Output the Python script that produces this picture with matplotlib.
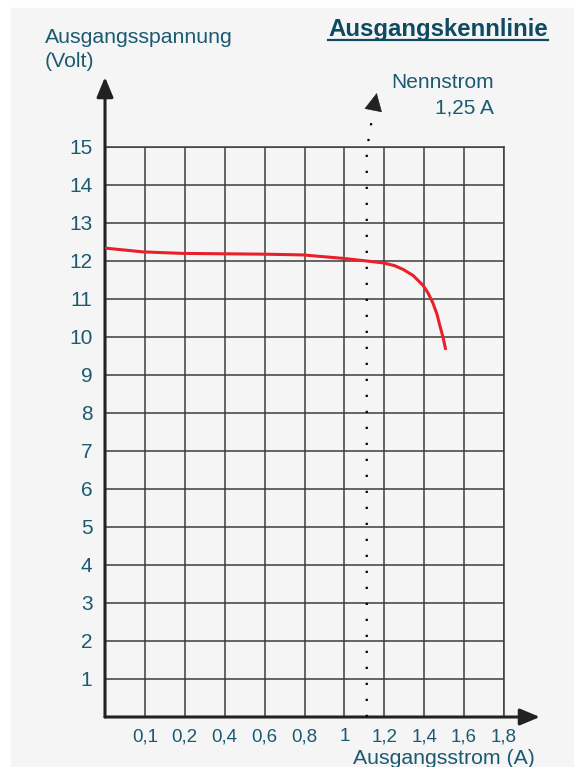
import matplotlib
matplotlib.use("Agg")
import matplotlib.pyplot as plt
from matplotlib.lines import Line2D
from matplotlib.patches import Rectangle

plt.rcParams["font.family"] = ["Liberation Sans", "DejaVu Sans"]

# grid positions along the current axis (one cell per tick) and their labels
x_ticks = [1, 2, 3, 4, 5, 6, 7, 8, 9, 10]
x_labels = ["0,1", "0,2", "0,4", "0,6", "0,8", "1", "1,2", "1,4", "1,6", "1,8"]
y_ticks = list(range(1, 16))
y_labels = [str(v) for v in y_ticks]

# output characteristic (x in grid units, volts)
curve_x = [0.0, 0.95, 1.95, 2.95, 3.96, 4.96, 5.96, 6.56, 6.97, 7.25, 7.47,
           7.72, 7.97, 8.10, 8.22, 8.32, 8.40, 8.47, 8.54]
curve_v = [12.34, 12.24, 12.20, 12.19, 12.18, 12.16, 12.07, 12.00, 11.95, 11.88, 11.78,
           11.62, 11.36, 11.15, 10.89, 10.60, 10.27, 10.00, 9.66]

nennstrom_pos = 6.56  # 1,25 A marker

TEXT = "#1b5a71"
TITLE = "#0e4a61"
GRID = "#3c3c3c"
BG = "#f5f5f5"

W, H = 574, 767
fig = plt.figure(figsize=(W / 100, H / 100), dpi=100, facecolor="white")
fig.patches.append(Rectangle((11 / W, 0), 1, 1 - 8 / H, transform=fig.transFigure,
                             color=BG, zorder=-10))

ax = fig.add_axes([105 / W, 50 / H, 399 / W, 570 / H])
ax.set_facecolor(BG)
ax.set_xlim(0, 10)
ax.set_ylim(0, 15)

ax.set_xticks(x_ticks)
ax.set_xticklabels(x_labels)
ax.set_yticks(y_ticks)
ax.set_yticklabels(y_labels)
ax.tick_params(axis="x", length=0, pad=8, labelsize=13.5, labelcolor=TEXT)
ax.tick_params(axis="y", length=0, pad=9, labelsize=15, labelcolor=TEXT)
ax.grid(True, color=GRID, lw=1.1)
ax.set_axisbelow(True)

for side in ["left", "bottom"]:
    ax.spines[side].set_visible(False)
for side in ["top", "right"]:
    ax.spines[side].set_color(GRID)
    ax.spines[side].set_linewidth(1.1)

# axis arrows
arrow = dict(arrowstyle="-|>,head_length=0.6,head_width=0.25", color="#222222",
             lw=2.2, mutation_scale=20, shrinkA=0, shrinkB=0)
ax.annotate("", xy=(0, 16.84), xytext=(0, 0), arrowprops=arrow, annotation_clip=False)
ax.annotate("", xy=(10.9, 0), xytext=(0, 0), arrowprops=arrow, annotation_clip=False)

# rated current marker
ax.plot([nennstrom_pos, nennstrom_pos, nennstrom_pos + 0.17],
        [0, 14.9, 16.0], color="black", lw=1.6, ls=(0, (1, 6.2)),
        clip_on=False, zorder=3)
ax.annotate("", xy=(nennstrom_pos + 0.25, 16.42), xytext=(nennstrom_pos + 0.17, 16.0),
            arrowprops=dict(arrowstyle="-|>,head_length=0.6,head_width=0.3",
                            color="#222222", lw=0.5, mutation_scale=20,
                            shrinkA=0, shrinkB=0),
            annotation_clip=False)

ax.plot(curve_x, curve_v, color="#e8202a", lw=2.2, zorder=4,
        solid_capstyle="butt", solid_joinstyle="round")

# texts
fig.text(45 / W, 1 - 43 / H, "Ausgangsspannung", color=TEXT, fontsize=15.3, va="baseline")
fig.text(45 / W, 1 - 67 / H, "(Volt)", color=TEXT, fontsize=15.3, va="baseline")
fig.text(494 / W, 1 - 88 / H, "Nennstrom", color=TEXT, fontsize=15, va="baseline", ha="right")
fig.text(494 / W, 1 - 113 / H, "1,25 A", color=TEXT, fontsize=15, va="baseline", ha="right")
fig.text(535 / W, 1 - 764 / H, "Ausgangsstrom (A)", color=TEXT, fontsize=15.3,
         va="baseline", ha="right")

title = fig.text(548 / W, 1 - 36 / H, "Ausgangskennlinie", color=TITLE, fontsize=17.3,
                 fontweight="bold", va="baseline", ha="right")
fig.canvas.draw()
bb = title.get_window_extent().transformed(fig.transFigure.inverted())
fig.lines.append(Line2D([bb.x0, bb.x1], [1 - 40 / H, 1 - 40 / H], transform=fig.transFigure,
                        color=TITLE, lw=1.6))

fig.savefig("out.png", dpi=100, facecolor=fig.get_facecolor())
